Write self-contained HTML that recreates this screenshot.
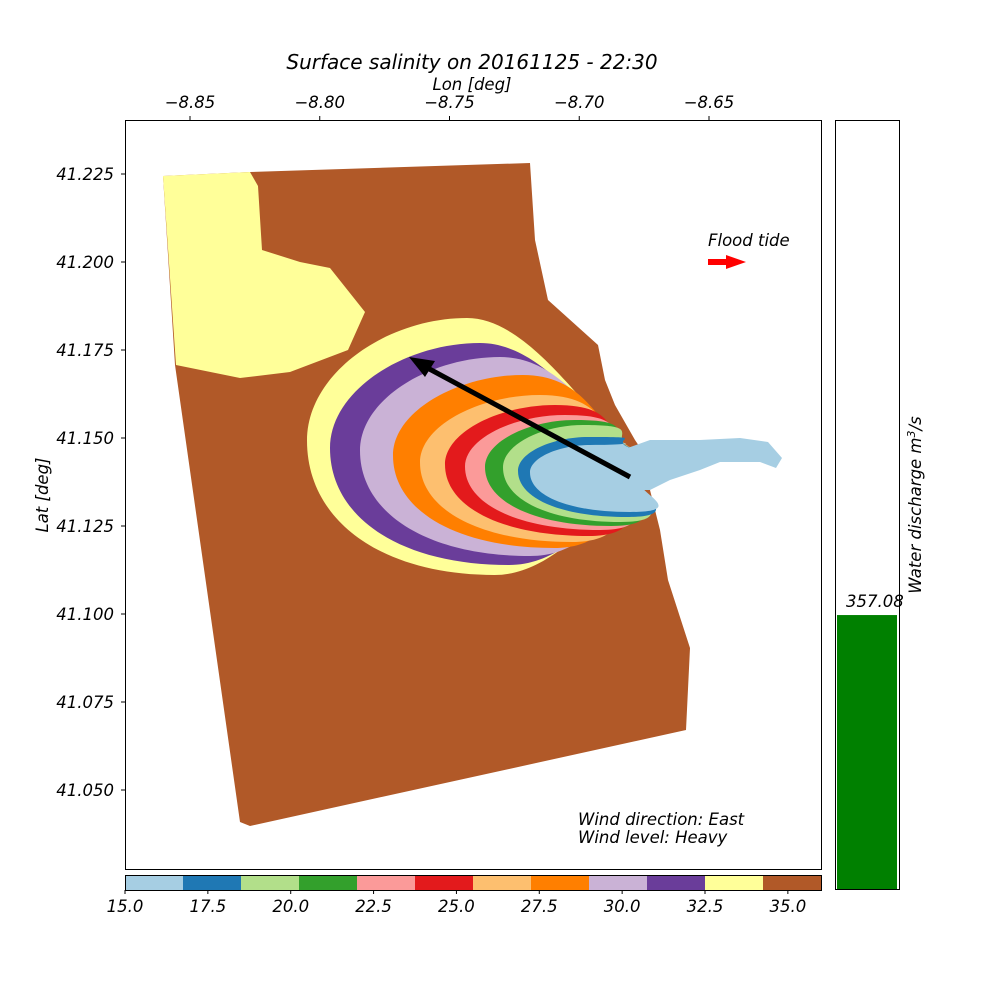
<!DOCTYPE html>
<html><head><meta charset="utf-8"><style>
body{margin:0;background:#fff;}
svg{display:block;font-family:"DejaVu Sans","Liberation Sans",sans-serif;}
text{font-style:italic;fill:#000;}
</style></head><body>
<svg id="s" width="1000" height="1000" viewBox="0 0 1000 1000" xmlns="http://www.w3.org/2000/svg">
<text x="472" y="69" font-size="20" text-anchor="middle">Surface salinity on 20161125 - 22:30</text>
<text x="472" y="90" font-size="16.5" text-anchor="middle">Lon [deg]</text>
<text x="48" y="495" font-size="16.5" text-anchor="middle" transform="rotate(-90 48 495)">Lat [deg]</text>
<g id="map">
<rect x="125" y="120" width="696" height="749" fill="#fff"/>
<path fill="#b15928" d="M163,176 L250,172 L530,163 L535,240 L548,300 L598,345 L605,380 L615,405 L635,440 L655,470 L650,490 L660,530 L668,580 L690,648 L686,730 L250,826 L240,822 L175,365 Z"/>
<path fill="#ffff99" d="M163,176 L250,172 L258,186 L262,250 L300,262 L330,268 L365,312 L348,350 L290,372 L240,378 L176,365 Z"/>
<g id="plume"></g>
<path fill="#a6cee3" d="M622,450 L650,440 L700,440 L740,438 L768,442 L782,458 L776,468 L760,462 L720,462 L700,470 L670,480 L650,490 L630,490 Z"/>
<line x1="630" y1="477" x2="422" y2="365" stroke="#000" stroke-width="5"/>
<polygon points="409,357 435,361 425,377" fill="#000"/>
<text x="708" y="246" font-size="16.5">Flood tide</text>
<polygon points="708,259 726,259 726,255 746,262 726,269 726,265 708,265" fill="#ff0000"/>
<text x="578" y="825" font-size="16.5">Wind direction: East</text>
<text x="578" y="843" font-size="16.5">Wind level: Heavy</text>
<rect x="125.5" y="120.5" width="696" height="749" fill="none" stroke="#000"/>
</g>
<g id="xt"></g>
<g id="yt"></g>
<g id="cb"></g>
<g id="db"></g>
</svg>
<script>
const lonTicks=[-8.85,-8.80,-8.75,-8.70,-8.65];
const latTicks=[41.225,41.200,41.175,41.150,41.125,41.100,41.075,41.050];
const levels=[15,16.75,18.5,20.25,22,23.75,25.5,27.25,29,30.75,32.5,34.25,36];
const levelColors=["#a6cee3","#1f78b4","#b2df8a","#33a02c","#fb9a99","#e31a1c","#fdbf6f","#ff7f00","#cab2d6","#6a3d9a","#ffff99","#b15928"];
const cbTicks=[15,17.5,20,22.5,25,27.5,30,32.5,35];
const discharge=[357.08];
const dischargeMax=[1000];
const NS="http://www.w3.org/2000/svg";
function mk(t,a,p){const e=document.createElementNS(NS,t);for(const k in a)e.setAttribute(k,a[k]);p.appendChild(e);return e;}
const xS=v=>190+(v+8.85)/0.05*129.75;
const yS=v=>174+(41.225-v)/0.025*88;
const cS=v=>125+(v-15)/21*696;
const xt=document.getElementById('xt');
lonTicks.forEach(v=>{const x=xS(v);
 const l=mk('line',{x1:x,x2:x,y1:116,y2:120,stroke:'#000'},xt);
 
 
 const t=mk('text',{x:x,y:108,'font-size':16.5,'text-anchor':'middle'},xt);t.textContent='\u2212'+Math.abs(v).toFixed(2);
 
 });
const yt=document.getElementById('yt');
latTicks.forEach(v=>{const y=yS(v);
 const l=mk('line',{x1:121,x2:125,y1:y,y2:y,stroke:'#000'},yt);
 
 
 const t=mk('text',{x:114,y:y+6,'font-size':16.5,'text-anchor':'end'},yt);t.textContent=v.toFixed(3);
 
 });
// plume contours, index 0 = innermost (15-16.75)
const plumeL=[530,518,503,485,465,445,420,393,360,330,307];
const plumeT=[445,437,425,420,415,405,395,375,357,343,318];
const plumeB=[512,517,522,526,530,536,542,548,556,565,575];
const pl=document.getElementById('plume');
for(let i=plumeL.length-1;i>=0;i--){
 const L=plumeL[i],T=plumeT[i],B=plumeB[i],m=(T+B)/2-6;
 const f=i/10, px=L+60+100*f, bx=L+80+146*f*0.6+20;
 const d=`M${L},${m} C${L},${m-(m-T)*0.55} ${px-(px-L)*0.5},${T} ${px},${T} C${px+70},${T} 600,438 636,450 L648,478 C615,485 ${bx+70},${B} ${bx},${B} C${bx-(bx-L)*0.6},${B} ${L},${m+(B-m)*0.6} ${L},${m} Z`;
 const p=mk('path',{d:d,fill:levelColors[i]},pl);
 
 }
const cb=document.getElementById('cb');
levelColors.forEach((c,i)=>{const r=mk('rect',{x:cS(levels[i]),y:875,width:cS(levels[i+1])-cS(levels[i]),height:15,fill:c},cb);
 
 });
mk('rect',{x:125.5,y:875.5,width:696,height:15,fill:'none',stroke:'#000'},cb);
cbTicks.forEach(v=>{const x=cS(v);mk('line',{x1:x,x2:x,y1:890,y2:894,stroke:'#000'},cb);
 const t=mk('text',{x:x,y:912,'font-size':16.5,'text-anchor':'middle'},cb);t.textContent=v.toFixed(1);
 
 });
const db=document.getElementById('db');
const bh=discharge[0]/dischargeMax[0]*(890-120);
const bar=mk('rect',{x:837,y:890-bh,width:60,height:bh,fill:'#008000'},db);


const bl=mk('text',{x:846,y:890-bh-8,'font-size':16.5},db);bl.textContent=discharge[0].toFixed(2);


mk('rect',{x:835.5,y:120.5,width:64,height:769,fill:'none',stroke:'#000'},db);
const yl=mk('text',{x:921,y:505,'font-size':16.5,'text-anchor':'middle',transform:'rotate(-90 921 505)'},db);
yl.innerHTML='Water discharge m<tspan baseline-shift="super" font-size="11">3</tspan>/s';


</script>
</body></html>
